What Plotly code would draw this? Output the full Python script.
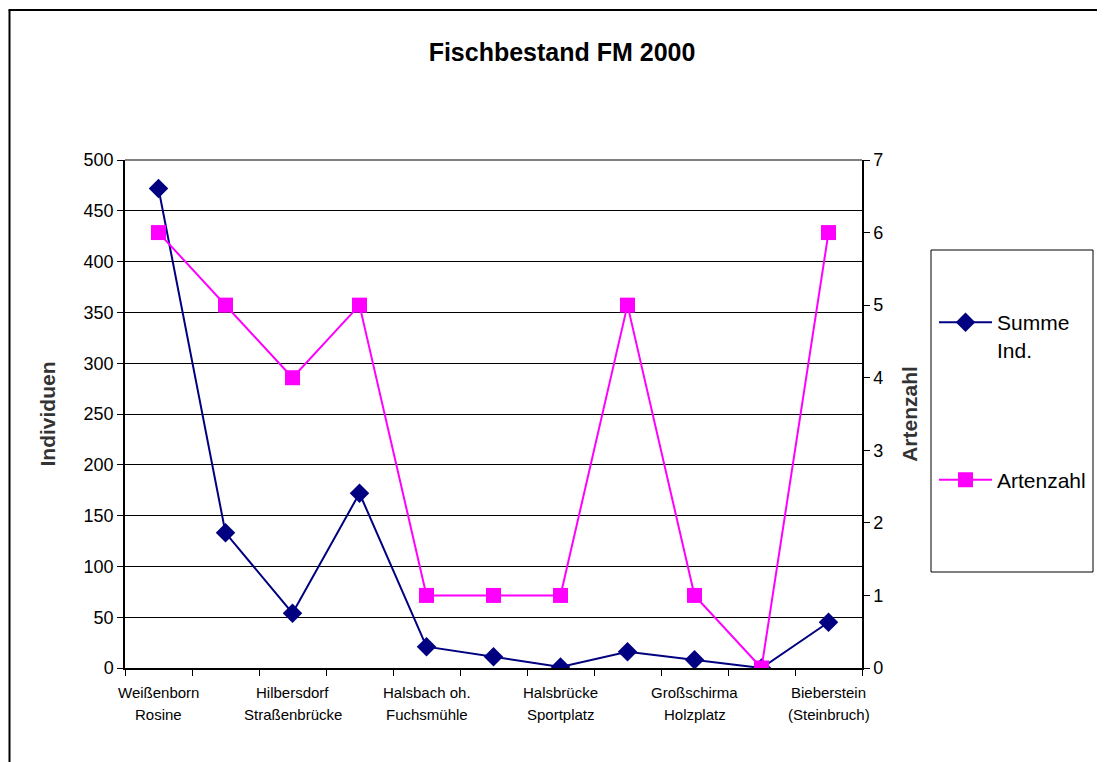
import plotly.graph_objects as go

# ---- data ----
site_index = list(range(11))
tick_positions = [0, 2, 4, 6, 8, 10]
tick_line1 = ["Weißenborn", "Hilbersdorf", "Halsbach oh.", "Halsbrücke", "Großschirma", "Bieberstein"]
tick_line2 = ["Rosine", "Straßenbrücke", "Fuchsmühle", "Sportplatz", "Holzplatz", "(Steinbruch)"]
summe_ind = [472, 133, 54, 172, 21, 11, 1, 16, 8, 0, 45]
artenzahl = [6, 5, 4, 5, 1, 1, 1, 5, 1, 0, 6]

FONT = "Liberation Sans, Arial, sans-serif"

# the page body has an 8px margin: work in screen pixels, convert to figure pixels
OFF = 8
L, R, T, B = 125 - OFF, 862 - OFF, 160 - OFF, 668 - OFF
W, H = 1105 - OFF, 762 - OFF
pw, ph = R - L, B - T

def px(xs):
    return (xs - OFF - L) / pw

def py(ys):
    return (B - (ys - OFF)) / ph

fig = go.Figure()
fig.add_trace(go.Scatter(
    x=site_index, y=summe_ind, name="Summe<br>Ind.", yaxis="y",
    mode="lines+markers", legendgroup="a",
    line=dict(color="#000080", width=2),
    marker=dict(symbol="diamond", size=15, color="#000080"),
))
fig.add_trace(go.Scatter(
    x=site_index, y=artenzahl, name="Artenzahl", yaxis="y2",
    mode="lines+markers", legendgroup="b",
    line=dict(color="#FF00FF", width=2),
    marker=dict(symbol="square", size=15, color="#FF00FF"),
))

annotations = []
for pos, t1, t2 in zip(tick_positions, tick_line1, tick_line2):
    annotations.append(dict(x=pos, y=py(692), xref="x", yref="paper", text=t1,
                            showarrow=False, xanchor="center", yanchor="middle",
                            font=dict(size=15, family=FONT, color="black")))
    annotations.append(dict(x=pos, y=py(714), xref="x", yref="paper", text=t2,
                            showarrow=False, xanchor="center", yanchor="middle",
                            font=dict(size=15, family=FONT, color="black")))

fig.update_layout(
    width=W, height=H,
    margin=dict(l=L, r=W - R, t=T, b=H - B, autoexpand=False),
    paper_bgcolor="white", plot_bgcolor="white",
    font=dict(family=FONT, color="black", size=18),
    title=dict(text="<b>Fischbestand FM 2000</b>", x=(562 - OFF) / W, xref="container",
               y=1 - (52 - OFF) / H, yref="container", xanchor="center", yanchor="middle",
               font=dict(size=25, family=FONT, color="black")),
    xaxis=dict(
        range=[-0.5, 10.5], tickmode="array", tickvals=tick_positions,
        showticklabels=False, ticks="", showgrid=False, zeroline=False,
        showline=True, linecolor="black", linewidth=1.5,
        minor=dict(tick0=-0.5, dtick=1, ticks="outside", ticklen=6, tickcolor="black",
                   showgrid=False),
    ),
    yaxis=dict(
        range=[0, 500], dtick=50, showgrid=True, gridcolor="black", gridwidth=1,
        zeroline=False, showline=True, linecolor="black", linewidth=1.5,
        ticks="outside", ticklen=6, tickcolor="black",
        tickfont=dict(size=18, family=FONT, color="black"),
        title=dict(text="<b>Individuen</b>", font=dict(size=21, family=FONT, color="#333"),
                   standoff=22),
    ),
    yaxis2=dict(
        range=[0, 7], dtick=1, overlaying="y", side="right", showgrid=False,
        zeroline=False, showline=True, linecolor="black", linewidth=1.5,
        ticks="outside", ticklen=6, tickcolor="black",
        tickfont=dict(size=18, family=FONT, color="black"),
        title=dict(text="<b>Artenzahl</b>", font=dict(size=21, family=FONT, color="#333"),
                   standoff=20),
    ),
    legend=dict(
        x=px(934), y=py(302), xanchor="left", yanchor="top",
        bgcolor="rgba(0,0,0,0)", borderwidth=0, valign="top",
        font=dict(size=21, family=FONT, color="black"),
        tracegroupgap=100, itemwidth=53,
    ),
    annotations=annotations,
    shapes=[
        # outer chart frame: top and left edges (right/bottom lie outside the view)
        dict(type="line", xref="paper", yref="paper",
             x0=px(8.5), x1=px(1105), y0=py(10), y1=py(10),
             line=dict(color="black", width=2)),
        dict(type="line", xref="paper", yref="paper",
             x0=px(9.5), x1=px(9.5), y0=py(10), y1=py(770),
             line=dict(color="black", width=2)),
        # plot area top border
        dict(type="line", xref="paper", yref="paper", x0=0, x1=1, y0=1, y1=1,
             line=dict(color="#808080", width=2)),
        # legend box
        dict(type="rect", xref="paper", yref="paper",
             x0=px(931), x1=px(1093), y0=py(572), y1=py(250),
             line=dict(color="black", width=1), fillcolor="rgba(0,0,0,0)"),
    ],
)

fig.write_html("out.html")
